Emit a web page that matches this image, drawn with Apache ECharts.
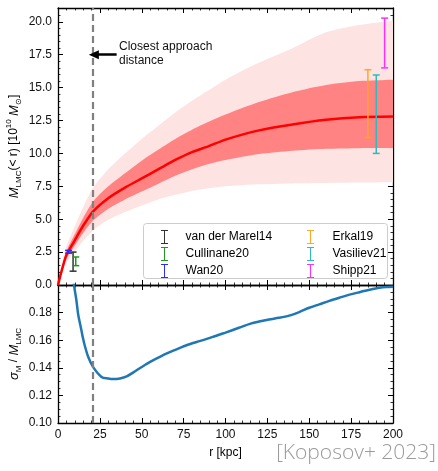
<!DOCTYPE html>
<html>
<head>
<meta charset="utf-8">
<script src="https://cdn.jsdelivr.net/npm/echarts@6.0.0/dist/echarts.min.js"></script>
<style>
html, body { margin: 0; padding: 0; background: #fff; }
#chart { width: 438px; height: 471px; }
</style>
</head>
<body>
<div id="chart"></div>
<script>
var chartDom = document.getElementById('chart');
var myChart = echarts.init(chartDom, null, { renderer: 'canvas' });

// enclosed mass vs radius (10^10 Msun)
var radius     = [0, 2, 5, 10, 15, 21, 30, 40, 50, 60, 70, 80, 90, 100, 120, 140, 160, 180, 200];
var massMedian = [0, 1.0, 2.27, 3.4, 4.5, 5.6, 6.6, 7.4, 8.1, 8.8, 9.5, 10.1, 10.55, 11.05, 11.75, 12.2, 12.55, 12.75, 12.8];
var massLow1   = [0, 0.87, 1.98, 2.98, 3.95, 4.9, 5.8, 6.5, 7.1, 7.7, 8.3, 8.8, 9.2, 9.5, 9.95, 10.2, 10.35, 10.4, 10.4];
var massHigh1  = [0, 1.13, 2.56, 3.85, 5.1, 6.35, 7.5, 8.5, 9.45, 10.3, 11.1, 11.8, 12.4, 12.95, 13.9, 14.65, 15.2, 15.5, 15.6];
var massLow2   = [0, 0.75, 1.7, 2.55, 3.35, 4.15, 4.95, 5.55, 6.05, 6.5, 6.85, 7.15, 7.35, 7.5, 7.65, 7.72, 7.75, 7.78, 7.8];
var massHigh2  = [0, 1.3, 2.95, 4.45, 5.9, 7.4, 8.8, 10.0, 11.1, 12.1, 13.1, 14.0, 14.8, 15.6, 16.9, 18.0, 19.2, 19.75, 20.1];

// relative uncertainty sigma_M / M_LMC
var sigmaR   = [8.5, 9.6, 11, 12, 14, 15, 16, 18, 21, 26, 30, 33, 37, 41, 45, 50, 55, 62, 70, 76, 85, 92, 97, 100, 108, 115, 120, 126, 132, 138, 144, 150, 156, 162, 168, 174, 180, 186, 192, 196, 200];
var sigmaRel = [0.21, 0.1995, 0.1888, 0.179, 0.167, 0.161, 0.156, 0.148, 0.1405, 0.1334, 0.1322, 0.1318, 0.1323, 0.1338, 0.1367, 0.1406, 0.1443, 0.1487, 0.153, 0.156, 0.1595, 0.1622, 0.1643, 0.1655, 0.169, 0.172, 0.1735, 0.175, 0.1762, 0.1778, 0.1804, 0.1835, 0.186, 0.1885, 0.1908, 0.193, 0.1948, 0.1965, 0.198, 0.1986, 0.1988];

// literature measurements (error bars)
var obsNames  = ['van der Marel14', 'Cullinane20', 'Wan20', 'Erkal19', 'Vasiliev21', 'Shipp21'];
var obsR      = [9, 10.6, 6.3, 185, 190, 195];
var obsLow    = [1.05, 1.47, 2.42, 11.2, 10.0, 16.5];
var obsHigh   = [2.5, 2.13, 2.63, 16.36, 15.96, 20.28];
var obsColors = ['#333333', '#239423', '#2b2bff', '#ffa726', '#30baba', '#ff2eff'];

var closestApproach = 21;
var arrowTailR = 35;
var arrowY = 17.5;

var xTicks = { min: 0, max: 200, interval: 25 };
var massTicks = { min: 0, max: 21.05, interval: 2.5 };
var sigmaTicks = { min: 0.1, max: 0.2, interval: 0.02, minor: 4 };

var FONT = '"Liberation Sans", Arial, sans-serif';

function pairs(xs, ys) {
  var out = [];
  for (var i = 0; i < xs.length; i++) out.push([xs[i], ys[i]]);
  return out;
}

function axis(ticks, extra) {
  var a = {
    type: 'value',
    min: ticks.min, max: ticks.max, interval: ticks.interval,
    axisLine: { show: true, onZero: false, lineStyle: { color: '#000', width: 1.3 } },
    axisTick: { show: true, inside: true, length: 5, lineStyle: { color: '#000', width: 1 } },
    minorTick: { show: true, splitNumber: ticks.minor || 5, length: 2.5, lineStyle: { color: '#000', width: 0.8 } },
    splitLine: { show: false },
    axisLabel: { show: false }
  };
  for (var k in extra) a[k] = extra[k];
  return a;
}

var labelStyle = { show: true, color: '#111', fontSize: 12, fontFamily: FONT, margin: 6 };

var richName = {
  i: { fontStyle: 'italic', fontSize: 13, fontFamily: FONT, color: '#000', lineHeight: 18 },
  n: { fontSize: 12, fontFamily: FONT, color: '#000', lineHeight: 18 },
  s: { fontSize: 8, fontFamily: FONT, color: '#000', verticalAlign: 'bottom' },
  p: { fontSize: 8, fontFamily: FONT, color: '#000', verticalAlign: 'top' }
};

var errIcon = 'path://M0,0H7V1H4V13H7V14H0V13H3V1H0Z';

// filled band between two curves, drawn through the axis scale
function bandSeries(name, lower, upper, color) {
  return {
    type: 'custom', name: name, xAxisIndex: 0, yAxisIndex: 0,
    data: [[0, 0]], silent: true, z: 1,
    renderItem: function (params, api) {
      var n = radius.length;
      var pts = [];
      for (var i = 0; i < n; i++) pts.push(api.coord([radius[i], upper[i]]));
      pts.push(api.coord([radius[n - 1], upper[n - 1]])); // keep the corner sharp
      for (var j = n - 1; j >= 0; j--) pts.push(api.coord([radius[j], lower[j]]));
      pts.splice(n + 1, 0, api.coord([radius[n - 1], lower[n - 1]]));
      var cs = params.coordSys;
      return {
        type: 'polygon',
        shape: { points: pts, smooth: 0.25 },
        style: { fill: color, stroke: null },
        clipPath: { type: 'rect', shape: { x: cs.x, y: cs.y, width: cs.width, height: cs.height } }
      };
    }
  };
}

var errSeries = obsNames.map(function (name, i) {
  return {
    name: name,
    type: 'custom',
    xAxisIndex: 0, yAxisIndex: 0,
    itemStyle: { color: obsColors[i] },
    encode: { x: 0, y: [1, 2] },
    data: [[obsR[i], obsLow[i], obsHigh[i]]],
    z: 5,
    renderItem: function (params, api) {
      var lo = api.coord([api.value(0), api.value(1)]);
      var hi = api.coord([api.value(0), api.value(2)]);
      var w = 3.5;
      var st = { stroke: obsColors[i], lineWidth: 1.5 };
      return {
        type: 'group',
        children: [
          { type: 'line', shape: { x1: lo[0], y1: lo[1], x2: hi[0], y2: hi[1] }, style: st },
          { type: 'line', shape: { x1: lo[0] - w, y1: lo[1], x2: lo[0] + w, y2: lo[1] }, style: st },
          { type: 'line', shape: { x1: hi[0] - w, y1: hi[1], x2: hi[0] + w, y2: hi[1] }, style: st }
        ]
      };
    }
  };
});

var dashed = {
  silent: true, symbol: 'none', animation: false,
  label: { show: false },
  lineStyle: { color: '#808080', type: [7, 4], width: 2.2 },
  data: [{ xAxis: closestApproach }]
};

var option = {
  animation: false,
  grid: [
    { left: 58, top: 8, width: 335, height: 277, outerBoundsMode: 'none' },
    { left: 58, top: 285, width: 335, height: 138, outerBoundsMode: 'none' }
  ],
  xAxis: [
    axis(xTicks, { gridIndex: 0, position: 'bottom' }),
    axis(xTicks, { gridIndex: 0, position: 'top' }),
    axis(xTicks, {
      gridIndex: 1, position: 'bottom',
      axisLabel: labelStyle,
      name: 'r [kpc]', nameLocation: 'middle', nameGap: 24,
      nameTextStyle: { fontSize: 12, fontFamily: FONT, color: '#000' }
    }),
    axis(xTicks, { gridIndex: 1, position: 'top' })
  ],
  yAxis: [
    axis(massTicks, {
      gridIndex: 0, position: 'left',
      axisLabel: Object.assign({}, labelStyle, { showMaxLabel: false, formatter: function (v) { return v.toFixed(1); } }),
      name: '{i|M}{s|LMC}{n|(< r) [10}{p|10}{n| }{i|M}{s|⊙}{n|]}',
      nameLocation: 'middle', nameGap: 35, nameRotate: 90, nameMoveOverlap: false,
      nameTextStyle: { rich: richName }
    }),
    axis(massTicks, { gridIndex: 0, position: 'right' }),
    axis(sigmaTicks, {
      gridIndex: 1, position: 'left',
      axisLabel: Object.assign({}, labelStyle, { showMaxLabel: false, formatter: function (v) { return v.toFixed(2); } }),
      name: '{i|σ}{s|M}{n| / }{i|M}{s|LMC}',
      nameLocation: 'middle', nameGap: 35, nameRotate: 90, nameMoveOverlap: false,
      nameTextStyle: { rich: richName }
    }),
    axis(sigmaTicks, { gridIndex: 1, position: 'right' })
  ],
  legend: [
    {
      data: obsNames.slice(0, 3), left: 156, top: 225, orient: 'vertical',
      itemGap: 3, itemWidth: 8, itemHeight: 14, icon: errIcon, selectedMode: false, z: 6,
      textStyle: { fontSize: 12, fontFamily: FONT, color: '#000', padding: [0, 0, 0, 12] }
    },
    {
      data: obsNames.slice(3), left: 302, top: 225, orient: 'vertical',
      itemGap: 3, itemWidth: 8, itemHeight: 14, icon: errIcon, selectedMode: false, z: 6,
      textStyle: { fontSize: 12, fontFamily: FONT, color: '#000', padding: [0, 0, 0, 13] }
    }
  ],
  graphic: [
    {
      type: 'rect', z: 5, left: 143, top: 223,
      shape: { width: 244, height: 55, r: 3 },
      style: { fill: 'rgba(255,255,255,0.85)', stroke: '#cccccc', lineWidth: 1 }
    },
    {
      type: 'text', z: 6, left: 119, top: 40,
      style: { text: 'Closest approach\ndistance', fontSize: 12, fontFamily: FONT, fill: '#111', lineHeight: 13.5 }
    },
    {
      type: 'text', z: 6, right: 2, top: 443,
      style: { text: '[Koposov+ 2023]', fontSize: 21, fontFamily: '"Open Sans", "DejaVu Sans", sans-serif', fontWeight: 300, fill: '#9a9a9a' }
    }
  ],
  series: [
    bandSeries('light', massLow2, massHigh2, '#fee3e3'),
    bandSeries('dark', massLow1, massHigh1, '#ff8383'),
    {
      type: 'line', name: 'median', xAxisIndex: 0, yAxisIndex: 0,
      data: pairs(radius, massMedian), symbol: 'none', smooth: 0.25,
      lineStyle: { color: '#ff0000', width: 2.5 }, z: 4,
      markLine: dashed
    },
    {
      type: 'line', name: 'arrow', xAxisIndex: 0, yAxisIndex: 0,
      data: [[arrowTailR, arrowY]], symbol: 'none', lineStyle: { width: 0 },
      markLine: {
        silent: true, animation: false, label: { show: false },
        lineStyle: { color: '#000', type: 'solid', width: 2.5 },
        data: [[
          { coord: [arrowTailR, arrowY], symbol: 'none' },
          { coord: [closestApproach + 0.4, arrowY], symbol: 'triangle', symbolSize: [9, 10] }
        ]]
      }
    }
  ].concat(errSeries).concat([
    {
      type: 'line', name: 'sigma', xAxisIndex: 2, yAxisIndex: 2,
      data: pairs(sigmaR, sigmaRel), symbol: 'none', smooth: 0.3, clip: true,
      lineStyle: { color: '#1f77b4', width: 2.5 },
      markLine: dashed
    }
  ])
};

option && myChart.setOption(option);
</script>
</body>
</html>
